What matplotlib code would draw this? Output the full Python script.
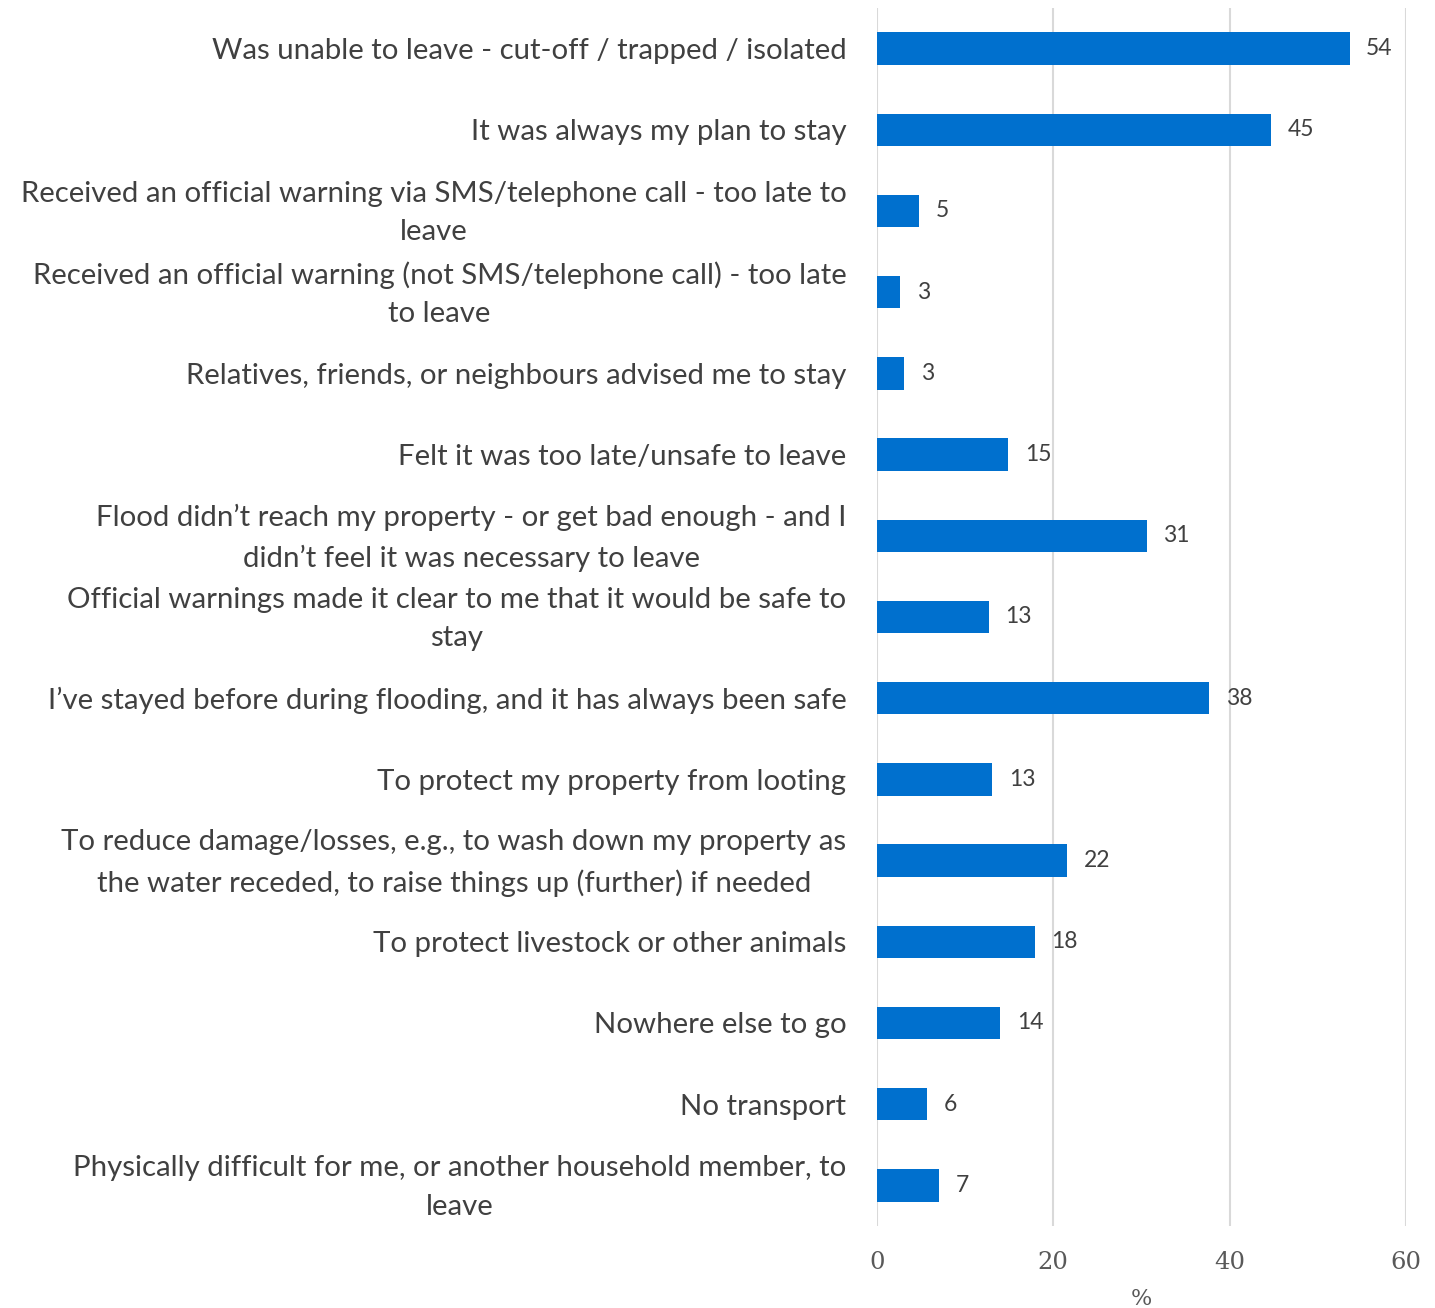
import numpy as np
import matplotlib.pyplot as plt
from matplotlib.transforms import ScaledTranslation

reasons = [
    "Was unable to leave - cut-off / trapped / isolated",
    "It was always my plan to stay",
    "Received an official warning via SMS/telephone call - too late to\nleave",
    "Received an official warning (not SMS/telephone call) - too late\nto leave",
    "Relatives, friends, or neighbours advised me to stay",
    "Felt it was too late/unsafe to leave",
    "Flood didn\u2019t reach my property - or get bad enough - and I\ndidn\u2019t feel it was necessary to leave",
    "Official warnings made it clear to me that it would be safe to\nstay",
    "I\u2019ve stayed before during flooding, and it has always been safe",
    "To protect my property from looting",
    "To reduce damage/losses, e.g., to wash down my property as\nthe water receded, to raise things up (further) if needed",
    "To protect livestock or other animals",
    "Nowhere else to go",
    "No transport",
    "Physically difficult for me, or another household member, to\nleave",
]
percent = [53.6, 44.7, 4.8, 2.6, 3.1, 14.9, 30.6, 12.7, 37.7, 13.1, 21.6, 17.9, 14.0, 5.7, 7.0]

bar_color = "#0070CE"
text_color = "#404040"

fig = plt.figure(figsize=(14.35, 13.08), dpi=100)
ax = fig.add_axes([0.6111, 0.0627, 0.3687, 0.9312])

y = np.arange(len(reasons))
bars = ax.barh(y, percent, height=0.4, color=bar_color, zorder=3)
ax.set_ylim(len(reasons) - 0.5, -0.5)
ax.set_xlim(0, 60)
ax.set_xticks([0, 20, 40, 60])

ax.set_yticks(y)
ax.tick_params(axis="y", length=0, pad=22)
ax.tick_params(axis="x", length=0, pad=18, labelsize=17.5, labelcolor="#595959")
ax.set_yticklabels(reasons, family="Lato", fontsize=21.2, color=text_color,
                   multialignment="center", linespacing=1.6)
for lbl in ax.get_xticklabels():
    lbl.set_family("DejaVu Serif")

# nudge the two-line labels up so they sit centred on their bars
lift = ScaledTranslation(0, 5 / 72, fig.dpi_scale_trans)
for lbl in ax.get_yticklabels():
    if "\n" in lbl.get_text():
        lbl.set_transform(lbl.get_transform() + lift)

ax.grid(axis="x", color="#D9D9D9", linewidth=1.5, zorder=0)
for s in ax.spines.values():
    s.set_visible(False)

for b, v in zip(bars, percent):
    ax.annotate(f"{v:.0f}", (b.get_width(), b.get_y() + b.get_height() / 2),
                xytext=(12, 0), textcoords="offset points", va="center", ha="left",
                fontsize=16.5, color=text_color, family="Lato")

ax.set_xlabel("%", family="DejaVu Serif", fontsize=16, color="#595959", labelpad=10)

fig.savefig("out.png", dpi=100)
